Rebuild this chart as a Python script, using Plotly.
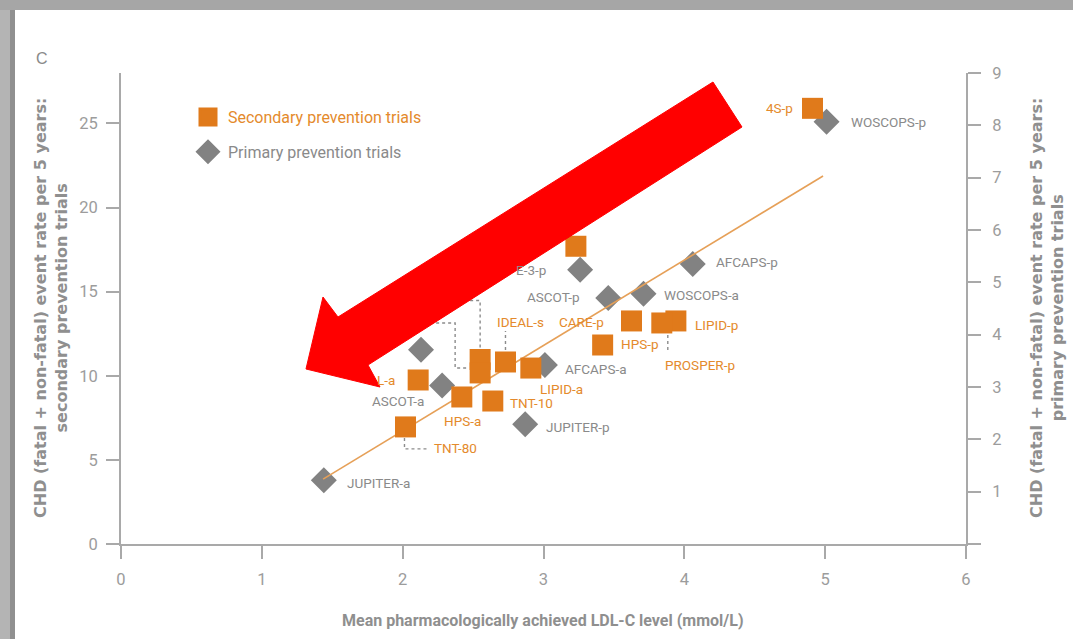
import plotly.graph_objects as go

# ---------------- data ----------------
# Secondary prevention trials (x: mean achieved LDL-C mmol/L, y: CHD event rate, left axis)
sec_names = ["hidden-s1", "4S-p", "stack-upper", "stack-lower", "IDEAL-s", "LIPID-a", "IDEAL-a",
             "HPS-a", "TNT-10", "TNT-80", "HPS-p", "CARE-p", "LIPID-p", "PROSPER-p"]
sec_x = [3.23, 4.91, 2.55, 2.55, 2.73, 2.91, 2.11, 2.42, 2.64, 2.02, 3.42, 3.625, 3.94, 3.84]
sec_y = [17.7, 25.9, 10.97, 10.17, 10.82, 10.46, 9.75, 8.74, 8.50, 6.96, 11.83, 13.26, 13.26, 13.14]
sec_labels = ["", "4S-p", "", "", "IDEAL-s", "LIPID-a", "L-a", "HPS-a", "TNT-10", "TNT-80",
              "HPS-p", "CARE-p", "LIPID-p", "PROSPER-p"]

# Primary prevention trials (y: CHD event rate, right axis)
pri_names = ["WOSCOPS-p", "E-3-p", "ASCOT-p", "WOSCOPS-a", "AFCAPS-p", "AFCAPS-a", "hidden-p1",
             "ASCOT-a", "JUPITER-p", "JUPITER-a"]
pri_x = [5.01, 3.26, 3.46, 3.71, 4.06, 3.01, 2.13, 2.28, 2.87, 1.44]
pri_y = [8.07, 5.24, 4.70, 4.78, 5.35, 3.42, 3.71, 3.03, 2.29, 1.22]
pri_labels = ["WOSCOPS-p", "E-3-p", "ASCOT-p", "WOSCOPS-a", "AFCAPS-p", "AFCAPS-a", "",
              "ASCOT-a", "JUPITER-p", "JUPITER-a"]

# Regression line (left axis units)
trend_x = [1.435, 4.985]
trend_y = [3.86, 21.88]

x_ticks = [0, 1, 2, 3, 4, 5, 6]
yl_ticks = [0, 5, 10, 15, 20, 25]
yr_ticks = [0, 1, 2, 3, 4, 5, 6, 7, 8, 9]
yr_ticktext = ["", "1", "2", "3", "4", "5", "6", "7", "8", "9"]

# ---------------- styles / layout helpers ----------------
W, H = 1073, 639
L, R, T, B = 121, 107, 73, 95
PW, PH = W - L - R, H - T - B

def px(x, y):
    return (x - L) / PW, (H - B - y) / PH

ORANGE = "#e07a1b"
ORANGE_TXT = "#e48a2c"
GRAY = "#828282"
GRAY_TXT = "#8a8a8a"
AXIS = "#a9a9a9"
NARROW = "Roboto, Liberation Sans, sans-serif"

# label placement (xanchor, xshift px, yshift px up)
sec_lab_pos = {
    "4S-p": ("right", -17, 0), "IDEAL-s": ("left", -10, 40), "LIPID-a": ("left", 7, -21),
    "L-a": ("right", -21, 0), "HPS-a": ("center", 1, -24), "TNT-10": ("left", 15, -2),
    "TNT-80": ("left", 27, -21), "HPS-p": ("left", 16, 1), "CARE-p": ("right", -26, -1),
    "LIPID-p": ("left", 17, -4), "PROSPER-p": ("left", 1, -42),
}
pri_lab_pos = {
    "WOSCOPS-p": ("left", 22, 0), "E-3-p": ("right", -32, 0), "ASCOT-p": ("right", -26, 1),
    "WOSCOPS-a": ("left", 19, -1), "AFCAPS-p": ("left", 21, 2), "AFCAPS-a": ("left", 18, -4),
    "ASCOT-a": ("right", -16, -16), "JUPITER-p": ("left", 19, -3), "JUPITER-a": ("left", 21, -3),
}

fig = go.Figure()

# primary (diamonds) on right axis 'y'
fig.add_trace(go.Scatter(x=pri_x, y=pri_y, mode="markers", yaxis="y", showlegend=False,
                         marker=dict(symbol="diamond", size=20, color=GRAY, line=dict(width=0)),
                         hoverinfo="skip"))
# trend line + secondary squares on left axis 'y2'
fig.add_trace(go.Scatter(x=trend_x, y=trend_y, mode="lines", yaxis="y2", showlegend=False,
                         line=dict(color="#e6a058", width=1.6), hoverinfo="skip"))
fig.add_trace(go.Scatter(x=sec_x, y=sec_y, mode="markers", yaxis="y2", showlegend=False,
                         marker=dict(symbol="square", size=21, color=ORANGE, line=dict(width=0)),
                         hoverinfo="skip"))

# legend-only entries
fig.add_trace(go.Scatter(x=[None], y=[None], mode="markers", yaxis="y2", legendgroup="a",
                         name="<span style='color:%s'>Secondary prevention trials</span>" % ORANGE_TXT,
                         marker=dict(symbol="square", size=16, color=ORANGE,
                                     line=dict(width=3, color=ORANGE))))
fig.add_trace(go.Scatter(x=[None], y=[None], mode="markers", yaxis="y", legendgroup="b",
                         name="<span style='color:%s'>Primary prevention trials</span>" % GRAY_TXT,
                         marker=dict(symbol="diamond", size=16, color=GRAY,
                                     line=dict(width=3, color=GRAY))))

annotations = []
for xv, yv, lab in zip(sec_x, sec_y, sec_labels):
    if lab and lab in sec_lab_pos:
        xa, xs, ys = sec_lab_pos[lab]
        annotations.append(dict(x=xv, y=yv, xref="x", yref="y2", text=lab, showarrow=False,
                                xanchor=xa, yanchor="middle", xshift=xs, yshift=ys,
                                font=dict(family=NARROW, size=13.5, color=ORANGE_TXT)))
for xv, yv, lab in zip(pri_x, pri_y, pri_labels):
    if lab and lab in pri_lab_pos:
        xa, xs, ys = pri_lab_pos[lab]
        annotations.append(dict(x=xv, y=yv, xref="x", yref="y", text=lab, showarrow=False,
                                xanchor=xa, yanchor="middle", xshift=xs, yshift=ys,
                                font=dict(family=NARROW, size=13.5, color=GRAY_TXT)))

# titles
TITLE_FONT = dict(family="DejaVu Sans", size=16, color="#8f8f8f", weight="bold")
tx, ty = px(51, 308)
annotations.append(dict(x=tx, y=ty, xref="paper", yref="paper", showarrow=False, textangle=-90,
                        text="CHD (fatal + non-fatal) event rate per 5 years:<br>secondary prevention trials",
                        font=TITLE_FONT, xanchor="center", yanchor="middle"))
tx, ty = px(1047, 308)
annotations.append(dict(x=tx, y=ty, xref="paper", yref="paper", showarrow=False, textangle=-90,
                        text="CHD (fatal + non-fatal) event rate per 5 years:<br>primary prevention trials",
                        font=TITLE_FONT, xanchor="center", yanchor="middle"))
tx, ty = px(543, 620)
annotations.append(dict(x=tx, y=ty, xref="paper", yref="paper", showarrow=False,
                        text="Mean pharmacologically achieved LDL-C level (mmol/L)",
                        font=dict(family=NARROW, size=16, color="#8f8f8f", weight="bold"),
                        xanchor="center", yanchor="middle"))
tx, ty = px(42, 58)
annotations.append(dict(x=tx, y=ty, xref="paper", yref="paper", showarrow=False, text="C",
                        font=dict(family="Liberation Sans", size=16, color="#8a8a8a"),
                        xanchor="center", yanchor="middle"))

shapes = []
# frame (screenshot border)
x0, y0 = px(0, H)
x1, y1 = px(15, 0)
shapes.append(dict(type="rect", xref="paper", yref="paper", x0=x0, y0=y0, x1=x1, y1=y1,
                   fillcolor="#b4b4b4", line=dict(width=0), layer="below"))
x0b, _ = px(10, 0)
shapes.append(dict(type="rect", xref="paper", yref="paper", x0=x0b, y0=y0, x1=x1, y1=y1,
                   fillcolor="#909090", line=dict(width=0), layer="below"))
xa0, ya0 = px(0, 10)
xa1, ya1 = px(W, 0)
shapes.append(dict(type="rect", xref="paper", yref="paper", x0=xa0, y0=ya0, x1=xa1, y1=ya1,
                   fillcolor="#a6a6a6", line=dict(width=0), layer="below"))

# leader lines (pixel offsets relative to the labelled marker)
def leader(xv, yv, yref, pts):
    path = "M" + " L".join("%g,%g" % p for p in pts)
    return dict(type="path", xref="x", yref=yref, xsizemode="pixel", ysizemode="pixel",
                xanchor=xv, yanchor=yv, path=path, layer="above",
                line=dict(color="#8c8c8c", width=1.4, dash="dot"))

idx = {n: i for i, n in enumerate(sec_names)}
i = idx["IDEAL-s"]; shapes.append(leader(sec_x[i], sec_y[i], "y2", [(0, 12), (0, 31)]))
i = idx["PROSPER-p"]; shapes.append(leader(sec_x[i], sec_y[i], "y2", [(6, -12), (6, -28)]))
i = idx["TNT-80"]; shapes.append(leader(sec_x[i], sec_y[i], "y2", [(-1, -11), (-1, -22), (23, -22)]))
i = idx["stack-lower"]; shapes.append(leader(sec_x[i], sec_y[i], "y2",
                                             [(-80, 50), (-25, 50), (-25, 5), (-11, 5)]))
i = idx["stack-upper"]; shapes.append(leader(sec_x[i], sec_y[i], "y2",
                                             [(-40, 59), (0, 59), (0, 11)]))

# big red arrow overlay
arrow_px = [(306, 369), (323, 297), (338, 317), (713, 82), (742, 127), (368, 365), (380, 387)]
path = "M" + " L".join("%.5f,%.5f" % px(a, b) for a, b in arrow_px) + " Z"
shapes.append(dict(type="path", xref="paper", yref="paper", path=path, fillcolor="#ff0000",
                   line=dict(color="#ff0000", width=1), layer="above"))

lx, ly = px(188, 100)
TICKFONT = dict(family=NARROW, size=16.5, color="#9c9c9c")
fig.update_layout(
    width=W, height=H, margin=dict(l=L, r=R, t=T, b=B, pad=0),
    paper_bgcolor="white", plot_bgcolor="white",
    showlegend=True,
    legend=dict(x=lx, y=ly, xanchor="left", yanchor="top", bgcolor="rgba(0,0,0,0)",
                font=dict(family=NARROW, size=16, color=GRAY_TXT), itemsizing="trace",
                tracegroupgap=11, itemwidth=30),
    xaxis=dict(range=[0, 6], tickvals=x_ticks, ticks="outside", ticklen=13, tickwidth=1.5,
               tickcolor=AXIS, showline=True, linecolor=AXIS, linewidth=2, showgrid=False,
               zeroline=False, tickfont=TICKFONT, ticklabelstandoff=6),
    yaxis=dict(range=[0, 9], side="right", tickvals=yr_ticks, ticktext=yr_ticktext,
               ticks="outside", ticklen=13, tickwidth=1.5, tickcolor=AXIS, showline=True,
               linecolor=AXIS, linewidth=2, showgrid=False, zeroline=False,
               tickfont=TICKFONT, ticklabelstandoff=8),
    yaxis2=dict(range=[0, 28], side="left", overlaying="y", tickvals=yl_ticks,
                ticks="outside", ticklen=13, tickwidth=1.5, tickcolor=AXIS, showline=True,
                linecolor=AXIS, linewidth=2, showgrid=False, zeroline=False,
                tickfont=TICKFONT, ticklabelstandoff=5),
    annotations=annotations, shapes=shapes,
)

fig.write_html("out.html", config={"displayModeBar": False},
               post_script="document.body.style.margin='0px';document.body.style.overflow='hidden';")
